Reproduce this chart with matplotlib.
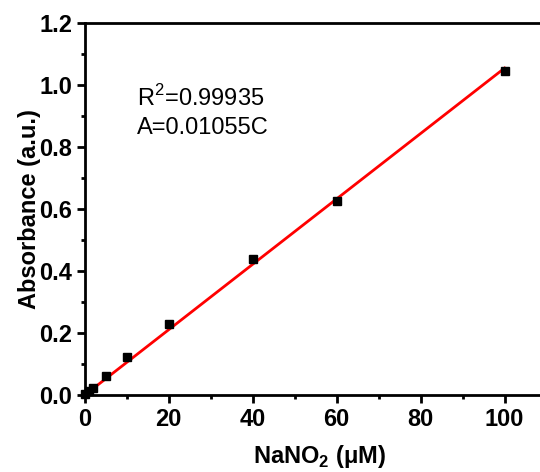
import numpy as np
import matplotlib
matplotlib.use('Agg')
import matplotlib.pyplot as plt
from matplotlib.ticker import MultipleLocator

# data
conc = [0, 1, 2, 5, 10, 20, 40, 60, 100]
absorb = [0.002, 0.012, 0.023, 0.060, 0.124, 0.229, 0.439, 0.627, 1.044]
slope = 0.01055
r2 = 0.99935

plt.rcParams['font.family'] = ['Liberation Sans', 'DejaVu Sans']

fig = plt.figure(figsize=(5.4, 4.72), dpi=100)
ax = fig.add_axes([0.157, 0.163, 0.87, 0.788])

fit_x = np.array([0, 100])
ax.plot(fit_x, slope * fit_x, color='#ff0000', lw=2, zorder=2)
ax.plot(conc, absorb, 's', color='black', ms=5.5, clip_on=False, zorder=3)

ax.set_xlim(0, 111.9)
ax.set_ylim(0, 1.2)
ax.xaxis.set_minor_locator(MultipleLocator(10))
ax.yaxis.set_minor_locator(MultipleLocator(0.1))
ax.set_xticks([0, 20, 40, 60, 80, 100])
ax.set_xticklabels(['0', '20', '40', '60', '80', '100'])
yt = [0, 0.2, 0.4, 0.6, 0.8, 1.0, 1.2]
ax.set_yticks(yt)
ax.set_yticklabels(['%.1f' % v for v in yt])

for s in ['left', 'bottom', 'top']:
    ax.spines[s].set_linewidth(2)
ax.spines['right'].set_visible(False)
ax.tick_params(which='major', direction='out', length=6, width=2, labelsize=17, pad=3)
ax.tick_params(which='minor', direction='out', length=3, width=2)
ax.tick_params(top=False, right=False)
for lab in ax.get_xticklabels() + ax.get_yticklabels():
    lab.set_fontweight('bold')

ax.set_xlabel('NaNO$_\\mathregular{2}$ (μM)', fontsize=17, fontweight='bold', labelpad=9)
ax.set_ylabel('Absorbance (a.u.)', fontsize=17, fontweight='bold', labelpad=-1)

ax.text(12.4, 0.958, 'R$^\\mathregular{2}$=0.99935', fontsize=17, va='center')
ax.text(12.4, 0.862, 'A=0.01055C', fontsize=17, va='center')

fig.savefig('out.png', dpi=100)
